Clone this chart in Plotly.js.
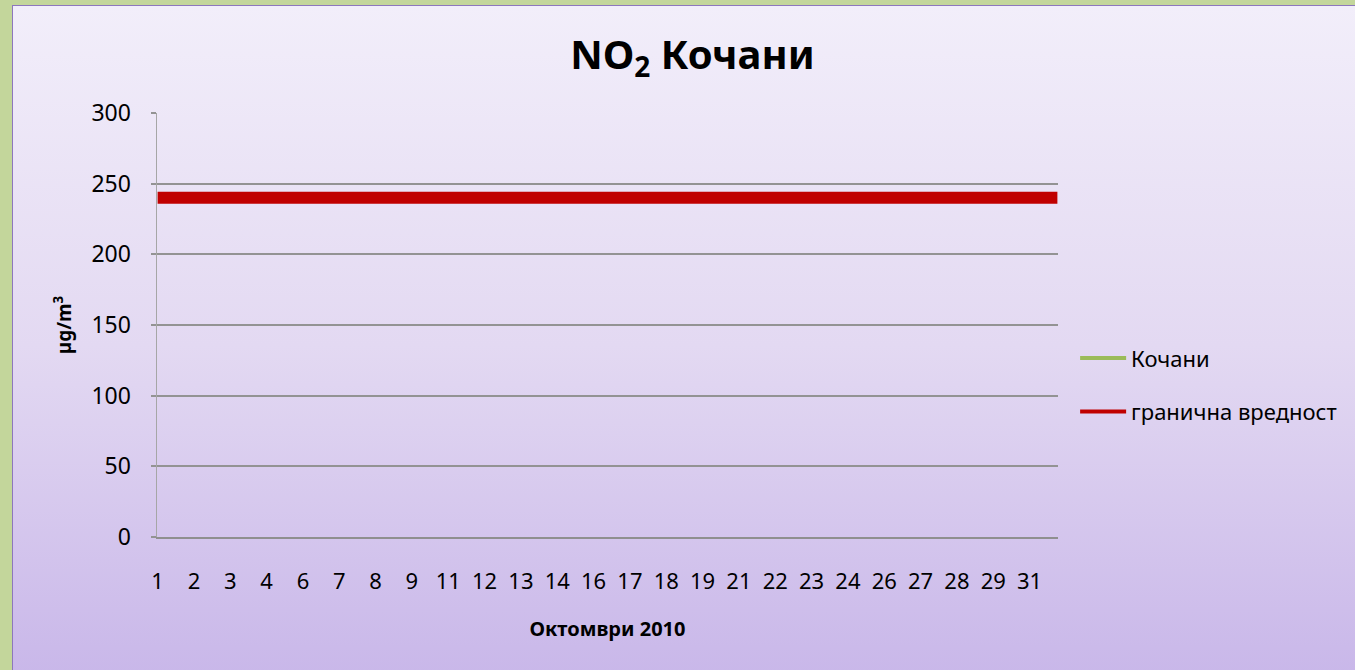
<!DOCTYPE html>
<html>
<head>
<meta charset="utf-8">
<script src="https://cdn.plot.ly/plotly-3.0.1.min.js"></script>
<style>
  html, body { margin:0; padding:0; width:1355px; height:670px; overflow:hidden; background:#c3d69b; }
  #frame { position:absolute; left:12px; top:5px; width:1360px; height:680px;
           border-left:1.5px solid #8d77bd; border-top:1.5px solid #8d77bd;
           background:linear-gradient(to bottom, #f2eefa 0%, #e3d9f2 50%, #c8b6e9 100%); }
  #chart { position:absolute; left:0; top:0; width:1355px; height:670px; }
</style>
</head>
<body>
<div id="frame"></div>
<div id="chart"></div>
<script>
// Day labels shown on the category axis (hourly data, one label every 30 hours)
const dayLabels = ['1','2','3','4','6','7','8','9','11','12','13','14','16','17','18','19','21','22','23','24','26','27','28','29','31'];
const hoursInMonth = 744;          // October 2010, hourly values
const hoursPerLabel = 30;
// Кочани series: no measured values visible in the chart
const kochaniHours = [];
const kochaniValues = [];
// Limit value (гранична вредност)
const limitHours = [0, hoursInMonth - 1];
const limitValues = [240, 240];

const seriesNames = ['Кочани', 'гранична вредност'];
const FONT = 'Noto Sans, DejaVu Sans, sans-serif';

const tickVals = dayLabels.map((d, i) => i * hoursPerLabel);

const traces = [
  { type:'scatter', mode:'lines', name:seriesNames[0], x:kochaniHours.length ? kochaniHours : [null], y:kochaniValues.length ? kochaniValues : [null],
    line:{color:'#9bbb59', width:4}, legendgroup:'a', showlegend:true, hoverinfo:'skip' },
  { type:'scatter', mode:'lines', name:seriesNames[1], x:limitHours, y:limitValues,
    line:{color:'#c00000', width:12}, legendgroup:'b', showlegend:false },
  { type:'scatter', mode:'lines', name:seriesNames[1], x:[null], y:[null],
    line:{color:'#c00000', width:4}, legendgroup:'b', showlegend:true, hoverinfo:'skip' }
];

const layout = {
  width:1355, height:670,
  paper_bgcolor:'rgba(0,0,0,0)', plot_bgcolor:'rgba(0,0,0,0)',
  margin:{l:157, r:297, t:113, b:133},
  font:{family:FONT, color:'#000'},
  title:{text:'<b>NO<sub>2</sub> Кочани</b>', font:{family:FONT, size:40, color:'#000'},
         xref:'container', yref:'container', x:0.511, xanchor:'center', y:0.918, yanchor:'middle'},
  xaxis:{
    range:[-0.5, hoursInMonth - 0.5], tickmode:'array', tickvals:tickVals, ticktext:dayLabels,
    showgrid:false, zeroline:false, showline:true, linecolor:'#8f8f8f', linewidth:2,
    ticks:'', tickfont:{size:22, family:FONT, color:'#000'}, ticklabelstandoff:24,
    title:{text:'<b>Октомври 2010</b>', font:{size:20, family:FONT, color:'#000'}, standoff:28}
  },
  yaxis:{
    range:[0, 300], dtick:50, tick0:0,
    showgrid:true, gridcolor:'#939393', gridwidth:2,
    zeroline:false, showline:true, linecolor:'#a6a6a6', linewidth:1.5,
    ticks:'outside', ticklen:5, tickwidth:2, tickcolor:'#939393',
    tickfont:{size:23, family:FONT, color:'#000'}, ticklabelstandoff:15,
    title:{text:'<b>µg/m<sup>3</sup></b>', font:{size:19, family:FONT, color:'#000'}, standoff:15}
  },
  legend:{x:1.019, xanchor:'left', y:0.358, yanchor:'middle',
          font:{size:22, family:FONT, color:'#000'}, bgcolor:'rgba(0,0,0,0)',
          traceorder:'grouped', tracegroupgap:22, itemwidth:46},
  showlegend:true
};

Plotly.newPlot('chart', traces, layout, {displayModeBar:false, staticPlot:true});
</script>
</body>
</html>
